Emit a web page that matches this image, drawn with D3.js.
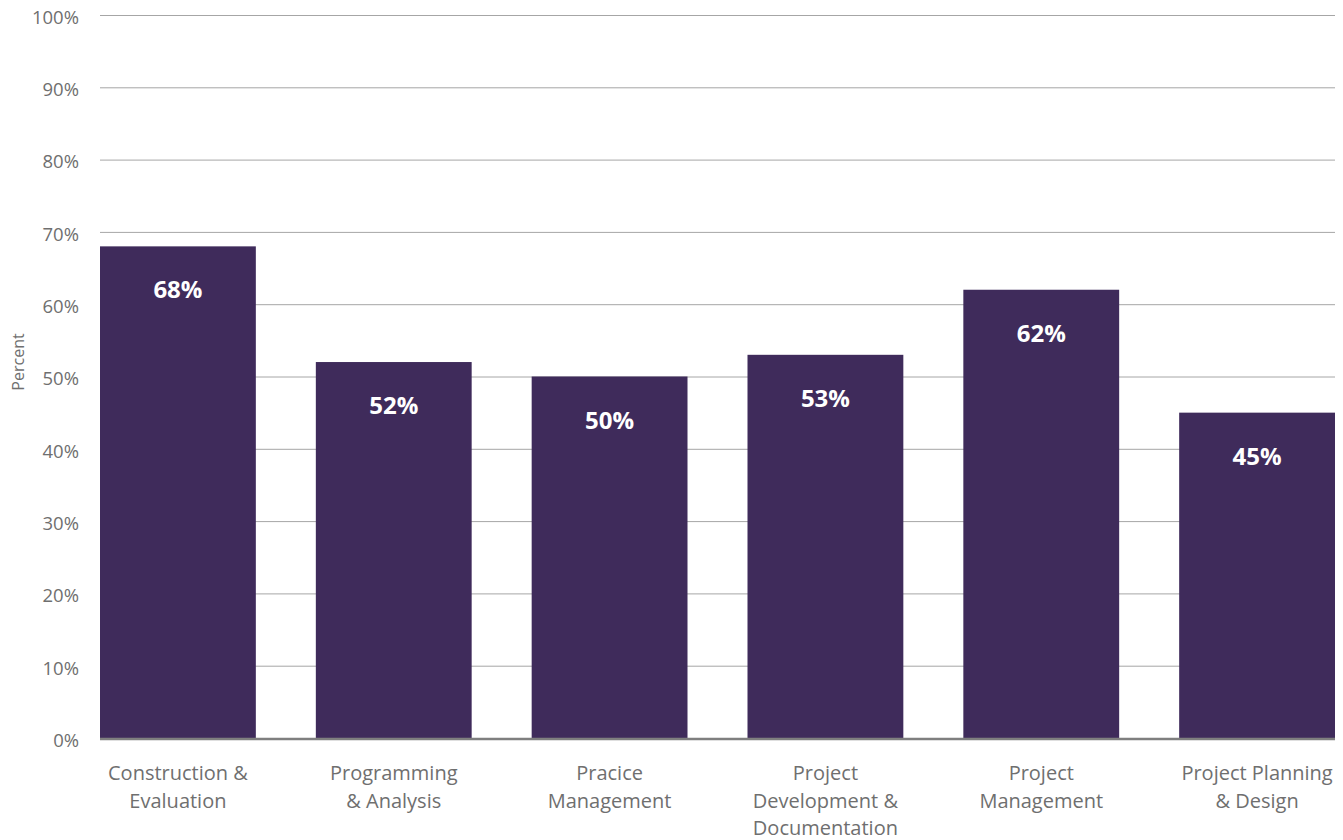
<!DOCTYPE html>
<html><head><meta charset="utf-8">
<script src="https://cdn.jsdelivr.net/npm/d3@7"></script>
<style>body{margin:0;background:#fff;}svg{display:block;font-family:"Open Sans",sans-serif;}</style>
</head><body>
<svg id="chart" width="1343" height="840"></svg>
<script>
const categories = ["Construction & Evaluation","Programming & Analysis","Pracice Management","Project Development & Documentation","Project Management","Project Planning & Design"];
const categoryLines = [["Construction &","Evaluation"],["Programming","& Analysis"],["Pracice","Management"],["Project","Development &","Documentation"],["Project","Management"],["Project Planning","& Design"]];
const values = [0.68, 0.52, 0.50, 0.53, 0.62, 0.45];
const valueLabels = ["68%","52%","50%","53%","62%","45%"];
const yTicks = [0,0.1,0.2,0.3,0.4,0.5,0.6,0.7,0.8,0.9,1.0];

(function(){
const svg = d3.select("#chart");
const mLeft = 100, mRight = 1335, mTop = 15, mBottom = 738;
const x = d3.scaleBand().domain(categories).range([mLeft, mRight]).paddingInner(0.278).paddingOuter(0);
const y = d3.scaleLinear().domain([0,1]).range([mBottom, mTop]);

// gridlines
const yAxis = d3.axisLeft(y).tickValues(yTicks).tickFormat(d3.format(".0%")).tickSize(-(mRight-mLeft)).tickPadding(21);
const ga = svg.append("g").attr("transform",`translate(${mLeft},0)`).call(yAxis);
ga.select(".domain").remove();
ga.selectAll(".tick line").attr("stroke","#a6a6a6").attr("stroke-width",1);
ga.selectAll(".tick text").attr("fill","#6f6f6f").attr("dy","0.45em").style("font-size","18.5px").style("font-family","'Open Sans',sans-serif");

// bars
svg.append("g").selectAll("rect").data(values).join("rect")
  .attr("x",(d,i)=>x(categories[i]))
  .attr("y",d=>y(d))
  .attr("width",x.bandwidth())
  .attr("height",d=>y(0)-y(d))
  .attr("fill","#3f2b5b");

// baseline
svg.append("line").attr("x1",mLeft).attr("x2",mRight).attr("y1",y(0)+1).attr("y2",y(0)+1)
  .attr("stroke","#7f7f7f").attr("stroke-width",2.5);

// value labels
svg.append("g").selectAll("text").data(values).join("text")
  .attr("x",(d,i)=>x(categories[i])+x.bandwidth()/2)
  .attr("y",d=>y(d)+52)
  .attr("text-anchor","middle")
  .attr("fill","#ffffff")
  .style("font-size","24px").style("font-weight","bold")
  .text((d,i)=>valueLabels[i]);

// category labels
const cl = svg.append("g").selectAll("text").data(categories).join("text")
  .attr("x",d=>x(d)+x.bandwidth()/2)
  .attr("y",780)
  .attr("text-anchor","middle")
  .attr("fill","#6f6f6f")
  .style("font-size","20px");
cl.each(function(d,i){
  const t = d3.select(this);
  categoryLines[i].forEach((ln,j)=>{
    t.append("tspan").attr("x",x(d)+x.bandwidth()/2).attr("dy",j===0?0:27.5).text(ln);
  });
});

// y axis title
svg.append("text").attr("transform","translate(24,362) rotate(-90)")
  .attr("text-anchor","middle").attr("fill","#6f6f6f").style("font-size","16px").text("Percent");
})();
</script>
</body></html>
